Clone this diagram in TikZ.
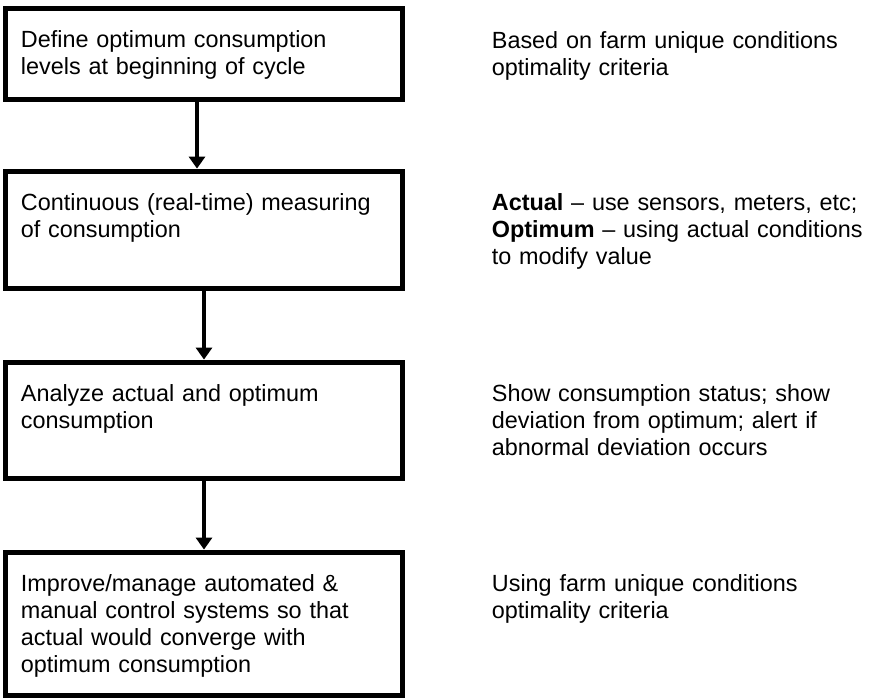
\documentclass[tikz,border=0pt]{standalone}
\usepackage{fontspec}
\setmainfont{Liberation Sans}
\usetikzlibrary{arrows.meta,positioning}
\definecolor{ink}{HTML}{000000}
\tikzset{
  stepbox/.style={draw=ink,line width=2.5pt,minimum width=198.5pt,
                  outer sep=0pt,inner sep=0pt,anchor=north west},
  steptext/.style={font=\fontsize{11.7}{13.6}\selectfont,text=ink,
                   align=left,inner sep=0pt,anchor=base west,text width=200pt},
  arrowdown/.style={-{Triangle[length=6pt,width=8pt]},line width=2pt,ink,
                    shorten >=1.2pt},
}

\begin{document}
\begin{tikzpicture}[x=0.5pt,y=-0.5pt]
  \useasboundingbox (0,0) rectangle (878,697);
  \foreach \i/\top/\h/\lbl/\rem in {
    1/8.5/91/{Define optimum consumption\\levels at beginning of cycle}/
      {Based on farm unique conditions\\optimality criteria},
    2/171/117/{Continuous (real-time) measuring\\of consumption}/
      {\textbf{Actual} – use sensors, meters, etc;\\
       \textbf{Optimum} – using actual conditions\\to modify value},
    3/362/116/{Analyze actual and optimum\\consumption}/
      {Show consumption status; show\\deviation from optimum; alert if\\
       abnormal deviation occurs},
    4/552/143/{Improve/manage automated \&\\manual control systems so that\\
       actual would converge with\\optimum consumption}/
      {Using farm unique conditions\\optimality criteria}
  }{
    \node[stepbox,minimum height=\h*0.5pt] (b\i) at (5.5,\top) {};
    \node[steptext] (l\i) at ([shift={(15,39)}]b\i.north west) {\lbl};
    \node[steptext] (r\i) at ([shift={(486,39.5)}]b\i.north west) {\rem};
  }
  \draw[arrowdown] ([xshift=-3.5pt]b1.south) -- ([xshift=-3.5pt]b2.north);
  \draw[arrowdown] (b2.south) -- (b3.north);
  \draw[arrowdown] (b3.south) -- (b4.north);
\end{tikzpicture}
\end{document}
